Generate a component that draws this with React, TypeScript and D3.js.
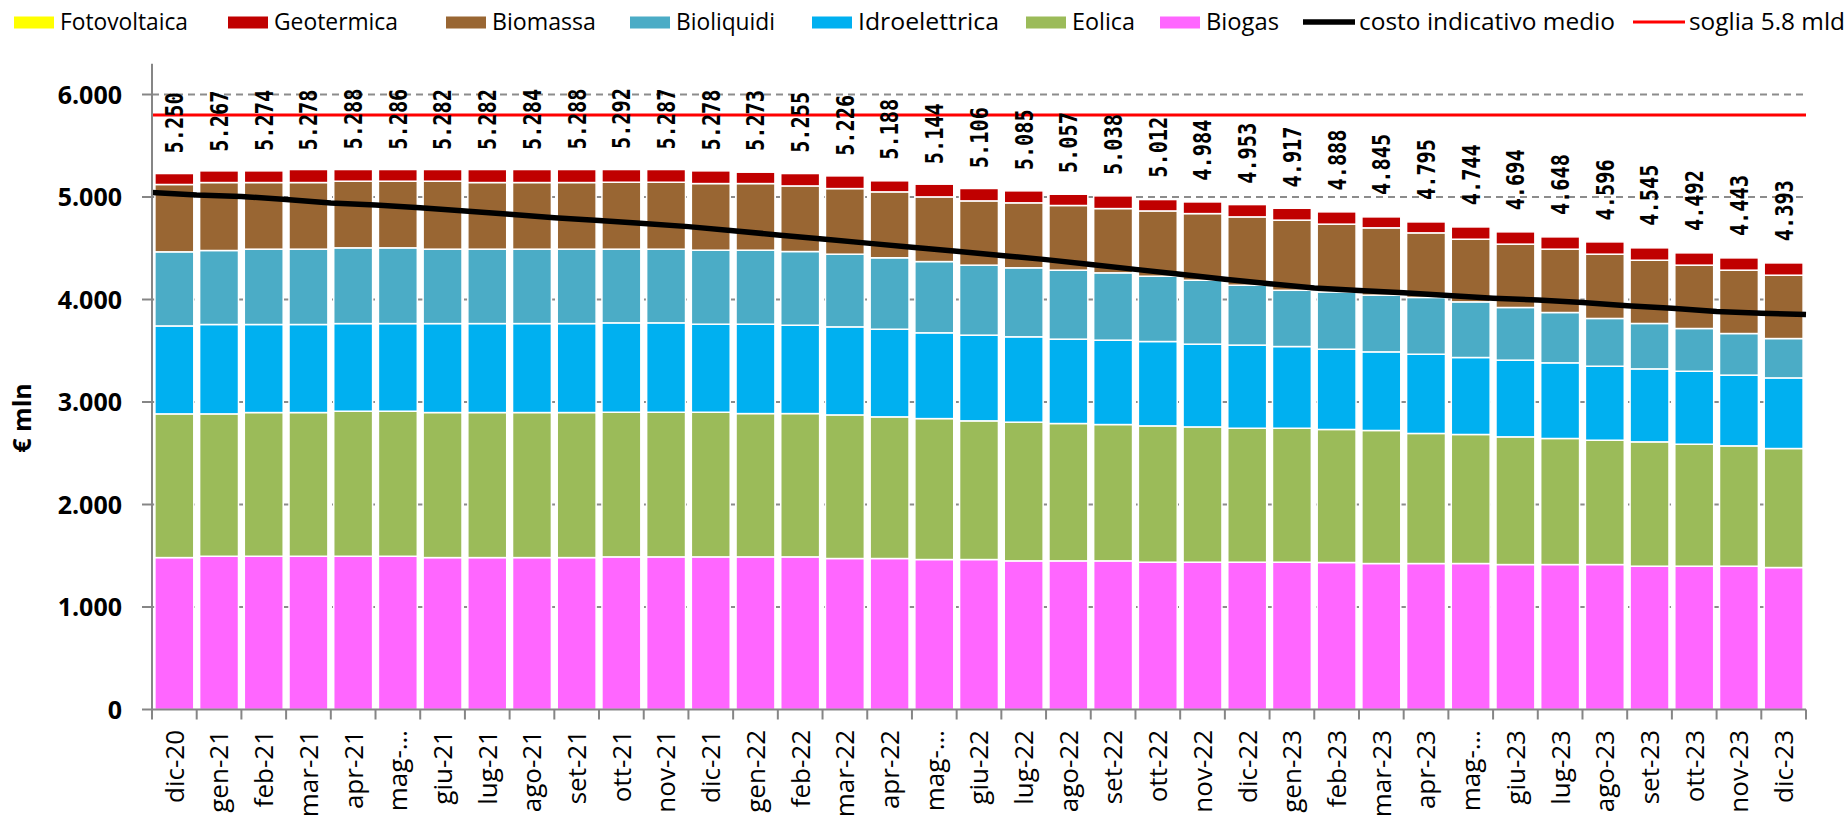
import React from "react";
import * as d3 from "d3";

// ---------- DATA ----------
const categories = [
  "dic-20", "gen-21", "feb-21", "mar-21", "apr-21", "mag-21", "giu-21", "lug-21", "ago-21", "set-21", "ott-21", "nov-21",
  "dic-21", "gen-22", "feb-22", "mar-22", "apr-22", "mag-22", "giu-22", "lug-22", "ago-22", "set-22", "ott-22", "nov-22",
  "dic-22", "gen-23", "feb-23", "mar-23", "apr-23", "mag-23", "giu-23", "lug-23", "ago-23", "set-23", "ott-23", "nov-23", "dic-23",
];
// labels as displayed on the axis (Excel truncated "mag-21" etc.)
const tickLabels = categories.map((c) => (c.startsWith("mag") ? "mag-…" : c));

const biogas = [1482, 1495, 1495, 1495, 1495, 1495, 1482, 1482, 1482, 1482, 1489, 1489, 1489, 1489, 1489, 1473, 1473, 1463, 1463, 1450, 1450, 1450, 1437, 1437, 1437, 1437, 1434, 1424, 1424, 1424, 1414, 1414, 1414, 1398, 1398, 1398, 1385];
const eolica = [1402, 1389, 1402, 1402, 1415, 1415, 1415, 1415, 1415, 1415, 1411, 1411, 1411, 1398, 1398, 1401, 1382, 1375, 1353, 1353, 1340, 1330, 1330, 1320, 1307, 1307, 1298, 1298, 1269, 1259, 1246, 1230, 1213, 1213, 1190, 1174, 1161];
const idroelettrica = [858, 872, 859, 859, 855, 855, 868, 868, 868, 868, 872, 872, 859, 872, 862, 859, 855, 837, 836, 833, 823, 823, 823, 807, 811, 797, 783, 767, 773, 751, 748, 738, 722, 712, 712, 690, 689];
const bioliquidi = [723, 722, 735, 735, 739, 739, 726, 726, 726, 726, 719, 719, 722, 722, 719, 709, 697, 695, 683, 673, 673, 657, 637, 624, 584, 549, 559, 553, 554, 543, 514, 491, 466, 443, 417, 406, 384];
const biomassa = [657, 663, 650, 650, 650, 650, 663, 650, 650, 650, 653, 653, 650, 650, 640, 640, 643, 631, 627, 634, 631, 627, 637, 650, 667, 684, 661, 657, 630, 611, 618, 618, 627, 617, 618, 618, 618];
const geotermica = [107, 114, 114, 127, 114, 114, 114, 127, 127, 127, 124, 124, 124, 111, 121, 124, 108, 124, 121, 117, 110, 124, 111, 114, 120, 116, 120, 107, 107, 120, 120, 120, 120, 121, 120, 120, 120];
const fotovoltaica = [0, 0, 0, 0, 0, 0, 0, 0, 0, 0, 0, 0, 0, 0, 0, 0, 0, 0, 0, 0, 0, 0, 0, 0, 0, 0, 0, 0, 0, 0, 0, 0, 0, 0, 0, 0, 0];

const totals = [5250, 5267, 5274, 5278, 5288, 5286, 5282, 5282, 5284, 5288, 5292, 5287, 5278, 5273, 5255, 5226, 5188, 5144, 5106, 5085, 5057, 5038, 5012, 4984, 4953, 4917, 4888, 4845, 4795, 4744, 4694, 4648, 4596, 4545, 4492, 4443, 4393];

// costo indicativo medio: values at the category edges (38 points)
const costoMedio = [5044, 5019, 5006, 4976, 4942, 4922, 4894, 4864, 4831, 4797, 4770, 4741, 4711, 4671, 4630, 4590, 4550, 4510, 4470, 4430, 4389, 4342, 4294, 4246, 4198, 4154, 4112, 4087, 4065, 4038, 4013, 3995, 3970, 3938, 3914, 3882, 3865, 3853];
const soglia = 5800;
const yTicks = [0, 1000, 2000, 3000, 4000, 5000, 6000];
const yMax = 6300;

const seriesKeys = ["Biogas", "Eolica", "Idroelettrica", "Bioliquidi", "Biomassa", "Geotermica", "Fotovoltaica"];
const seriesValues: Record<string, number[]> = {
  Biogas: biogas,
  Eolica: eolica,
  Idroelettrica: idroelettrica,
  Bioliquidi: bioliquidi,
  Biomassa: biomassa,
  Geotermica: geotermica,
  Fotovoltaica: fotovoltaica,
};
const colors: Record<string, string> = {
  Fotovoltaica: "#FFFF00",
  Geotermica: "#C00000",
  Biomassa: "#996633",
  Bioliquidi: "#4BACC6",
  Idroelettrica: "#00B0F0",
  Eolica: "#9BBB59",
  Biogas: "#FF66FF",
};

const legendNames = ["Fotovoltaica", "Geotermica", "Biomassa", "Bioliquidi", "Idroelettrica", "Eolica", "Biogas", "costo indicativo medio", "soglia 5.8 mld"];

// ---------- LAYOUT ----------
const W = 1846;
const H = 820;
const left = 152;
const right = 1806;
const bottom = 709.5;
const top = bottom - (645.75 * yMax) / 6300;
const legendX = [14, 228, 446, 630, 812, 1026, 1160, 1303, 1633];
const legendTextW = [128, 124, 104, 99, 141, 63, 73, 256, 156];

const itLocale = d3.formatLocale({ decimal: ",", thousands: ".", grouping: [3], currency: ["", " €"] });
const fmt = itLocale.format(",");

export default function App() {
  const x = d3.scaleBand<string>().domain(categories).range([left, right]).paddingInner(0.13).paddingOuter(0.065);
  const xEdge = d3.scaleLinear().domain([0, categories.length]).range([left, right]);
  const y = d3.scaleLinear().domain([0, yMax]).range([bottom, top]);

  const rows = categories.map((c, i) => {
    const r: any = { cat: c };
    seriesKeys.forEach((k) => (r[k] = seriesValues[k][i]));
    return r;
  });
  const stacked = d3.stack<any>().keys(seriesKeys)(rows);

  const costoLine = d3
    .line<number>()
    .x((_, i) => xEdge(i))
    .y((d) => y(d));

  const grid = "#8C8C8C";
  const axis = "#868686";

  return (
    <svg width={W} height={H} style={{ position: "absolute", left: 0, top: 0, background: "#fff" }}>
      {/* gridlines */}
      {yTicks.filter((t) => t > 0).map((t) => (
        <line key={"g" + t} x1={left} x2={right} y1={y(t)} y2={y(t)} stroke={grid} strokeWidth={2} strokeDasharray="7 5" />
      ))}

      {/* stacked bars */}
      {stacked.map((s) => (
        <g key={s.key} fill={colors[s.key]}>
          {s.map((d, i) =>
            d[1] - d[0] > 0 ? (
              <rect
                key={i}
                x={x(categories[i])}
                width={x.bandwidth()}
                y={y(d[1])}
                height={y(d[0]) - y(d[1])}
                stroke="#fff"
                strokeWidth={1.5}
              />
            ) : null
          )}
        </g>
      ))}

      {/* threshold */}
      <line x1={left} x2={right} y1={y(soglia)} y2={y(soglia)} stroke="#FF0000" strokeWidth={3} />

      {/* average cost line */}
      <path d={costoLine(costoMedio) || ""} fill="none" stroke="#000" strokeWidth={5.5} strokeLinejoin="round" />

      {/* axes */}
      <line x1={left} x2={left} y1={top} y2={bottom} stroke={axis} strokeWidth={2} />
      <line x1={left} x2={right} y1={bottom} y2={bottom} stroke={axis} strokeWidth={2} />
      {yTicks.map((t) => (
        <g key={"yt" + t}>
          <line x1={left - 10} x2={left} y1={y(t)} y2={y(t)} stroke={axis} strokeWidth={2} />
          <text
            x={122}
            y={y(t)}
            dy="0.36em"
            textAnchor="end"
            fontFamily="'Open Sans', sans-serif"
            fontWeight={700}
            fontSize={25}
            fill="#000"
          >
            {fmt(t)}
          </text>
        </g>
      ))}
      {d3.range(categories.length + 1).map((i) => (
        <line key={"xt" + i} x1={xEdge(i)} x2={xEdge(i)} y1={bottom} y2={bottom + 10} stroke={axis} strokeWidth={2} />
      ))}
      {categories.map((c, i) => (
        <text
          key={"xl" + c}
          transform={`translate(${(x(c) as number) + x.bandwidth() / 2},${730}) rotate(-90)`}
          dy="0.36em"
          textAnchor="end"
          fontFamily="'Open Sans', sans-serif"
          fontSize={26}
          fill="#000"
        >
          {tickLabels[i]}
        </text>
      ))}

      {/* data labels */}
      {categories.map((c, i) => (
        <text
          key={"dl" + c}
          transform={`translate(${(x(c) as number) + x.bandwidth() / 2},${y(totals[i]) - 18}) rotate(-90)`}
          dy="0.37em"
          textAnchor="start"
          fontFamily="'DejaVu Sans Mono', monospace"
          fontWeight={700}
          fontSize={24}
          textLength={61}
          lengthAdjust="spacingAndGlyphs"
          fill="#000"
        >
          {fmt(totals[i])}
        </text>
      ))}

      {/* y axis title */}
      <text
        transform={`translate(22,${418}) rotate(-90)`}
        dy="0.36em"
        textAnchor="middle"
        fontFamily="'Open Sans', sans-serif"
        fontWeight={700}
        fontSize={25}
        fill="#000"
      >
        € mln
      </text>

      {/* legend */}
      {legendNames.map((name, i) => {
        const lx = legendX[i];
        const isLine = i >= 7;
        return (
          <g key={"lg" + name}>
            {isLine ? (
              <line
                x1={lx}
                x2={lx + 52}
                y1={22}
                y2={22}
                stroke={i === 7 ? "#000" : "#FF0000"}
                strokeWidth={i === 7 ? 5.5 : 3}
              />
            ) : (
              <rect x={lx} y={16.5} width={40} height={12} fill={colors[name]} />
            )}
            <text
              x={isLine ? lx + 56 : lx + 46}
              y={22}
              dy="0.36em"
              fontFamily="'Open Sans', sans-serif"
              fontSize={23}
              textLength={legendTextW[i]}
              lengthAdjust="spacingAndGlyphs"
              fill="#000"
            >
              {name}
            </text>
          </g>
        );
      })}
    </svg>
  );
}
